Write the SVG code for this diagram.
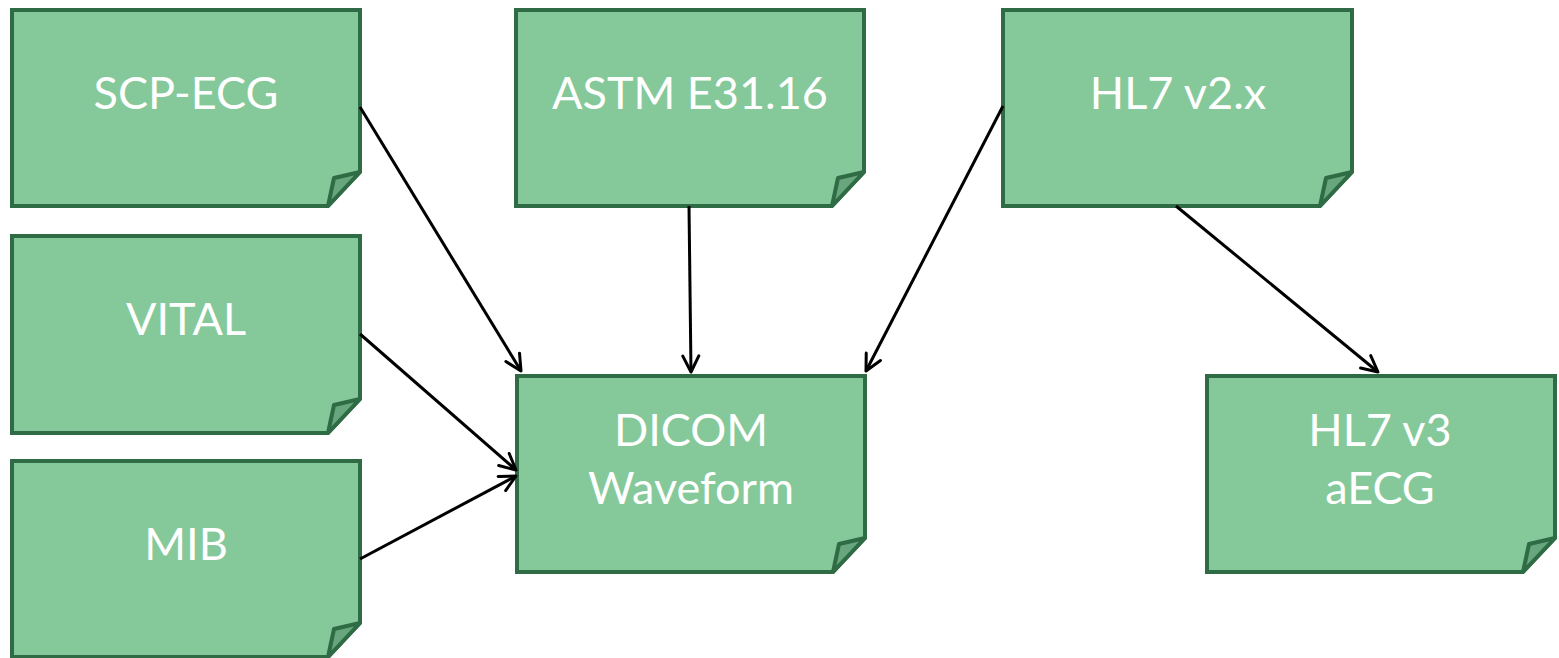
<svg xmlns="http://www.w3.org/2000/svg" width="1559" height="658" viewBox="0 0 1559 658">
<style>
.box{fill:#85c99b;stroke:#2f6b45;stroke-width:4;stroke-linejoin:miter}
.fold{fill:#68a67d;stroke:#2f6b45;stroke-width:4;stroke-linejoin:round}
.t{font-family:Lato,"Open Sans",sans-serif;font-size:45px;fill:#ffffff;text-anchor:middle}
.c{stroke:#000;stroke-width:3;fill:none}
</style>
<defs>
<marker id="ah" viewBox="0 0 20 20" refX="18" refY="10" markerWidth="20" markerHeight="20" markerUnits="userSpaceOnUse" orient="auto">
<path d="M2,2 L18,10 L2,18" fill="none" stroke="#000" stroke-width="3" stroke-linecap="round" stroke-linejoin="round"/>
</marker>
</defs>
<g id="n-scp">
<path class="box" d="M12,10 H360 V172 L328,206 H12 Z"/>
<path class="fold" d="M328,206 L334,178 L360,172 Z"/>
<text class="t" x="186" y="109">SCP-ECG</text>
</g>
<g id="n-vital">
<path class="box" d="M12,236 H360 V399 L328,433 H12 Z"/>
<path class="fold" d="M328,433 L334,405 L360,399 Z"/>
<text class="t" x="186" y="335">VITAL</text>
</g>
<g id="n-mib">
<path class="box" d="M12,461 H360 V623 L328,657 H12 Z"/>
<path class="fold" d="M328,657 L334,629 L360,623 Z"/>
<text class="t" x="186" y="560">MIB</text>
</g>
<g id="n-astm">
<path class="box" d="M516,10 H864 V172 L832,206 H516 Z"/>
<path class="fold" d="M832,206 L838,178 L864,172 Z"/>
<text class="t" x="690" y="109">ASTM E31.16</text>
</g>
<g id="n-hl7v2">
<path class="box" d="M1003,10 H1352 V172 L1320,206 H1003 Z"/>
<path class="fold" d="M1320,206 L1326,178 L1352,172 Z"/>
<text class="t" x="1178" y="109">HL7 v2.x</text>
</g>
<g id="n-dicom">
<path class="box" d="M517,376 H865 V538 L833,572 H517 Z"/>
<path class="fold" d="M833,572 L839,544 L865,538 Z"/>
<text class="t" x="691" y="446">DICOM</text>
<text class="t" x="691" y="504">Waveform</text>
</g>
<g id="n-hl7v3">
<path class="box" d="M1207,376 H1555 V538 L1523,572 H1207 Z"/>
<path class="fold" d="M1523,572 L1529,544 L1555,538 Z"/>
<text class="t" x="1380" y="446">HL7 v3</text>
<text class="t" x="1380" y="504">aECG</text>
</g>
<g id="connectors">
<line class="c" x1="360" y1="107" x2="521" y2="371" marker-end="url(#ah)"/>
<line class="c" x1="689" y1="206" x2="691" y2="372" marker-end="url(#ah)"/>
<line class="c" x1="1003" y1="106" x2="866" y2="371" marker-end="url(#ah)"/>
<line class="c" x1="360" y1="334" x2="516" y2="470" marker-end="url(#ah)"/>
<line class="c" x1="360" y1="559" x2="516" y2="476" marker-end="url(#ah)"/>
<line class="c" x1="1176" y1="206" x2="1378" y2="372" marker-end="url(#ah)"/>
</g>
</svg>
